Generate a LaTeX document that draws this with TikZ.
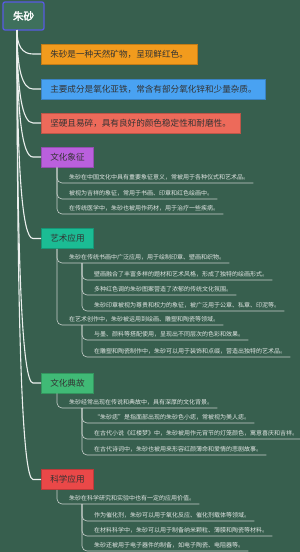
\documentclass[tikz,border=0pt]{standalone}
\usepackage{fontspec}
\setmainfont{Noto Sans CJK SC}[AutoFakeBold=2.5]
\usetikzlibrary{calc}
\definecolor{bg}{RGB}{55,95,78}
\definecolor{rootfill}{RGB}{62,112,92}
\definecolor{rootborder}{RGB}{88,90,226}
\definecolor{corange}{RGB}{242,155,29}
\definecolor{cblue}{RGB}{73,162,242}
\definecolor{csalmon}{RGB}{237,106,90}
\definecolor{cpurple}{RGB}{186,96,221}
\definecolor{cteal}{RGB}{27,188,148}
\definecolor{cgreen}{RGB}{64,186,118}
\definecolor{cred}{RGB}{234,72,72}
\definecolor{boxtext}{RGB}{51,51,51}
\definecolor{leaftext}{RGB}{226,230,228}
\definecolor{underc}{RGB}{200,208,204}
\definecolor{connc}{RGB}{236,240,238}
\begin{document}
\begin{tikzpicture}[x=1pt,y=-1pt,
  rootbox/.style={draw=rootborder, line width=1.3pt, fill=rootfill, rounded corners=2pt,
    minimum width=41pt, minimum height=28pt, inner sep=0pt, text=white,
    font=\fontsize{10.5}{12}\selectfont\bfseries},
  mainbox/.style={anchor=west, minimum height=20pt, inner xsep=9pt, inner ysep=0pt,
    font=\fontsize{8.6}{10}\selectfont, text=boxtext, line width=0.5pt},
  leaf/.style={anchor=base west, inner sep=0pt, text=leaftext,
    font=\fontsize{6}{7}\selectfont},
  conn/.style={draw=connc, line width=1.1pt},
  under/.style={draw=underc, line width=0.6pt, rounded corners=5pt}
]
\fill[bg] (0,0) rectangle (300,552);
\useasboundingbox (0,0) rectangle (300,552);

\node[rootbox] (root) at (23.5,16) {朱砂};
\coordinate (trunk) at (17,30);

\node[mainbox, fill=corange, draw=corange!80!black] (m1) at (41,54) {朱砂是一种天然矿物，呈现鲜红色。};
\node[mainbox, fill=cblue, draw=cblue!80!black] (m2) at (41,89) {主要成分是氧化亚铁，常含有部分氧化锌和少量杂质。};
\node[mainbox, fill=csalmon, draw=csalmon!80!black] (m3) at (41,123) {坚硬且易碎，具有良好的颜色稳定性和耐磨性。};
\node[mainbox, fill=cpurple, draw=cpurple!80!black] (c1) at (41,157) {文化象征};
\node[mainbox, fill=cteal, draw=cteal!80!black] (c2) at (41,238.5) {艺术应用};
\node[mainbox, fill=cgreen, draw=cgreen!80!black] (c3) at (41,383) {文化典故};
\node[mainbox, fill=cred, draw=cred!80!black] (c4) at (41,479.5) {科学应用};

\foreach \b in {m1,m2,m3,c1,c2,c3,c4}{
  \draw[conn] (trunk) .. controls ($(trunk)!0.6667!(trunk |- \b.west)$) and ($(\b.west)+(-18.7,0)$) .. ($(\b.west)+(-8,0)$) -- (\b.west);
}

% 文化象征
\node[leaf] (a1) at (69,179) {朱砂在中国文化中具有重要象征意义，常被用于各种仪式和艺术品。};
\node[leaf] (a2) at (69,195) {被视为吉祥的象征，常用于书画、印章和红色绘画中。};
\node[leaf] (a3) at (69,210) {在传统医学中，朱砂也被用作药材，用于治疗一些疾病。};
\foreach \n in {a1,a2,a3}{
  \draw[under] ($(c1.south west)+(16,0)$) |- ($(\n.base east)+(4,4)$);
}

% 艺术应用
\node[leaf] (b1) at (69,259) {朱砂在传统书画中广泛应用，用于绘制印章、壁画和织物。};
\node[leaf] (b11) at (94,276) {壁画融合了丰富多样的题材和艺术风格，形成了独特的绘画形式。};
\node[leaf] (b12) at (94,291) {多种红色调的朱砂图案营造了浓郁的传统文化氛围。};
\node[leaf] (b13) at (94,307) {朱砂印章被视为尊贵和权力的象征，被广泛用于公章、私章、印泥等。};
\node[leaf] (b2) at (69,321) {在艺术创作中，朱砂被运用到绘画、雕塑和陶瓷等领域。};
\node[leaf] (b21) at (94,336) {与墨、颜料等搭配使用，呈现出不同层次的色彩和效果。};
\node[leaf] (b22) at (94,353) {在雕塑和陶瓷制作中，朱砂可以用于装饰和点缀，营造出独特的艺术品。};
\foreach \n in {b1,b2}{
  \draw[under] ($(c2.south west)+(16,0)$) |- ($(\n.base east)+(4,4)$);
}
\foreach \n in {b11,b12,b13}{
  \draw[under] ($(b1.base west)+(13,4)$) |- ($(\n.base east)+(4,4)$);
}
\foreach \n in {b21,b22}{
  \draw[under] ($(b2.base west)+(13,4)$) |- ($(\n.base east)+(4,4)$);
}

% 文化典故
\node[leaf] (d1) at (69,404) {朱砂经常出现在传说和典故中，具有深厚的文化背景。};
\node[leaf] (d11) at (94,419) {“朱砂痣”是指面部出现的朱砂色小痣，常被视为美人痣。};
\node[leaf] (d12) at (94,435) {在古代小说《红楼梦》中，朱砂被用作元宵节的灯笼颜色，寓意喜庆和吉祥。};
\node[leaf] (d13) at (94,451) {在古代诗词中，朱砂也被用来形容红颜薄命和爱情的悲剧故事。};
\draw[under] ($(c3.south west)+(16,0)$) |- ($(d1.base east)+(4,4)$);
\foreach \n in {d11,d12,d13}{
  \draw[under] ($(d1.base west)+(13,4)$) |- ($(\n.base east)+(4,4)$);
}

% 科学应用
\node[leaf] (e1) at (69,500) {朱砂在科学研究和实验中也有一定的应用价值。};
\node[leaf] (e11) at (94,517) {作为催化剂，朱砂可以用于氧化反应、催化剂载体等领域。};
\node[leaf] (e12) at (94,532) {在材料科学中，朱砂可以用于制备纳米颗粒、薄膜和陶瓷等材料。};
\node[leaf] (e13) at (94,547) {朱砂还被用于电子器件的制备，如电子陶瓷、电阻器等。};
\draw[under] ($(c4.south west)+(16,0)$) |- ($(e1.base east)+(4,4)$);
\foreach \n in {e11,e12,e13}{
  \draw[under] ($(e1.base west)+(13,4)$) |- ($(\n.base east)+(4,4)$);
}
\end{tikzpicture}
\end{document}
